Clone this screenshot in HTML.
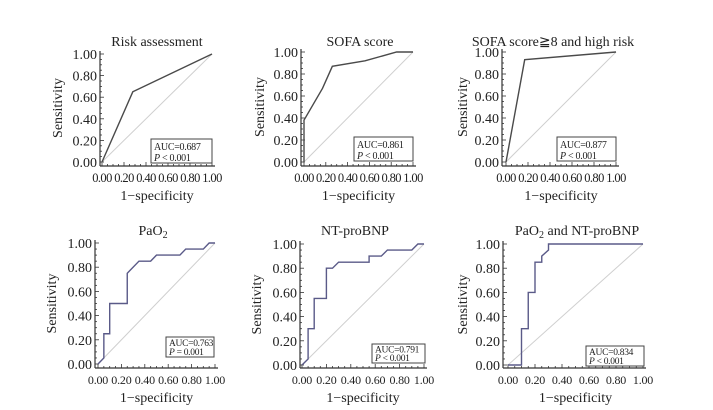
<!DOCTYPE html>
<html><head><meta charset="utf-8"><style>
body{margin:0;background:#fff;}
svg{display:block;font-family:"Liberation Serif",serif;}
</style></head><body>
<svg id="fig" width="713" height="410"></svg>
<script>
const tickLabels=["0.00","0.20","0.40","0.60","0.80","1.00"];
const tickValues=[0,0.2,0.4,0.6,0.8,1];
const riskX=[0,0.28,1];
const riskY=[0,0.65,1];
const sofaX=[0,0,0.17,0.26,0.56,0.85,1];
const sofaY=[0,0.38,0.67,0.87,0.92,1,1];
const comboX=[0,0.17,1];
const comboY=[0,0.93,1];
const paoX=[0,0.05,0.05,0.10,0.10,0.25,0.25,0.35,0.45,0.5,0.7,0.75,0.9,0.95,1];
const paoY=[0,0.05,0.25,0.25,0.5,0.5,0.75,0.85,0.85,0.9,0.9,0.95,0.95,1,1];
const ntX=[0,0.05,0.05,0.1,0.1,0.2,0.2,0.25,0.3,0.55,0.55,0.65,0.7,0.9,0.95,1];
const ntY=[0,0.05,0.3,0.3,0.55,0.55,0.8,0.8,0.85,0.85,0.9,0.9,0.95,0.95,1,1];
const bothX=[0,0.1,0.1,0.15,0.15,0.2,0.2,0.25,0.25,0.3,0.3,1];
const bothY=[0,0,0.3,0.3,0.6,0.6,0.85,0.85,0.9,0.95,1,1];
const aucLabels=["AUC=0.687","AUC=0.861","AUC=0.877","AUC=0.763","AUC=0.791","AUC=0.834"];
const pLabels=["< 0.001","< 0.001","< 0.001","= 0.001","< 0.001","< 0.001"];

const NS="http://www.w3.org/2000/svg";
const svg=document.getElementById('fig');
function mk(tag,attrs,parent){const e=document.createElementNS(NS,tag);for(const k in attrs)e.setAttribute(k,attrs[k]);(parent||svg).appendChild(e);return e;}

const panels=[
 {name:"risk",title:"Risk assessment",xs:riskX,ys:riskY,ax:100,x0:102,x1:212,y0:162,y1:54,xa:166,tx:157,ty:46,sx:58,box:[151,139,61,24],col:"#4a4a4a",lx:200},
 {name:"sofa",title:"SOFA score",xs:sofaX,ys:sofaY,ax:301,x0:304,x1:413,y0:162,y1:52,xa:166,tx:360,ty:46,sx:260,box:[354,137,59,24],col:"#4a4a4a",lx:200},
 {name:"sofa-high-risk",title:"SOFA score\u22678 and high risk",xs:comboX,ys:comboY,ax:502,x0:506,x1:616,y0:162,y1:52,xa:166,tx:553,ty:46,sx:463,box:[557,137,59,24],col:"#4a4a4a",lx:200},
 {name:"pao2",title:"PaO",sub:"2",xs:paoX,ys:paoY,ax:95,x0:98,x1:215,y0:364,y1:243,xa:368,tx:153,ty:235,sx:52,box:[166,337,48,20],col:"#5a5a88",lx:402},
 {name:"nt-probnp",title:"NT-proBNP",xs:ntX,ys:ntY,ax:300,x0:302,x1:424,y0:365,y1:244,xa:368,tx:355,ty:235,sx:257,box:[372,344,53,19],col:"#5a5a88",lx:402},
 {name:"pao2-and-nt-probnp",title:"PaO",sub:"2",tail:" and NT-proBNP",xs:bothX,ys:bothY,ax:503,x0:508,x1:643,y0:365,y1:244,xa:368,tx:577,ty:235,sx:463,box:[586,346,58,20],col:"#5a5a88",lx:402}
];

panels.forEach((p,i)=>{
 const g=mk('g',{});
 
 
 const X=v=>p.x0+v*(p.x1-p.x0), Y=v=>p.y0+v*(p.y1-p.y0);
 const t=mk('text',{x:p.tx,y:p.ty,'text-anchor':'middle','font-size':14,fill:'#222'},g);
 
 
 t.textContent=p.title;
 if(p.sub){const s=mk('tspan',{'font-size':10,dy:3},t);s.textContent=p.sub;if(p.tail){const s2=mk('tspan',{dy:-3},t);s2.textContent=p.tail;}}
 const ya=mk('line',{x1:p.ax,y1:Y(1)-3,x2:p.ax,y2:p.xa,stroke:'#333','stroke-width':1.2},g);
 
 
 const xa=mk('line',{x1:p.ax,y1:p.xa,x2:X(1)+3,y2:p.xa,stroke:'#333','stroke-width':1.2},g);
 
 
 for(let k=0;k<=20;k++){const v=k/20,len=(k%4==0)?4:2;
  mk('line',{x1:p.ax,y1:Y(v),x2:p.ax+len,y2:Y(v),stroke:'#333','stroke-width':0.8},g);
  mk('line',{x1:X(v),y1:p.xa,x2:X(v),y2:p.xa-len,stroke:'#333','stroke-width':0.8},g);}
 tickValues.forEach((v,j)=>{
  const a=mk('text',{x:p.ax-3,y:Y(v)+5,'text-anchor':'end','font-size':14,fill:'#222'},g);
  
  
  a.textContent=tickLabels[j];
  const b=mk('text',{x:X(v),y:p.xa+16,'text-anchor':'middle','font-size':i<3?12.5:12,fill:'#222','letter-spacing':i<3?-0.6:-0.2},g);
  
  
  b.textContent=tickLabels[j];
 });
 const xl=mk('text',{x:(p.x0+p.x1)/2,y:p.lx,'text-anchor':'middle','font-size':14,fill:'#222'},g);
 
 
 xl.textContent='1\u2212specificity';
 const yl=mk('text',{x:0,y:0,'text-anchor':'middle','font-size':14,fill:'#222',transform:`translate(${p.sx+4},${(p.y0+p.y1)/2}) rotate(-90)`},g);
 
 
 yl.textContent='Sensitivity';
 const d=mk('line',{x1:X(0),y1:Y(0),x2:X(1),y2:Y(1),stroke:'#cfcfcf','stroke-width':1},g);
 
 
 const pts=p.xs.map((v,k)=>X(v)+','+Y(p.ys[k])).join(' ');
 const c=mk('polyline',{points:pts,fill:'none',stroke:p.col,'stroke-width':1.4},g);
 
 
 const [bx,by,bw,bh]=p.box;
 const bg=mk('g',{},g);
 
 
 mk('rect',{x:bx,y:by,width:bw,height:bh,fill:'#fff',stroke:'#444','stroke-width':1},bg);
 const fs=i<3?10:9.5;
 const a1=mk('text',{x:bx+3,y:by+bh/2-1,'font-size':fs,fill:'#222','letter-spacing':-0.3},bg);a1.textContent=aucLabels[i];
 const a2=mk('text',{x:bx+3,y:by+bh-2,'font-size':fs,fill:'#222','letter-spacing':-0.3},bg);
 const it=mk('tspan',{'font-style':'italic'},a2);it.textContent='P';
 const rest=mk('tspan',{},a2);rest.textContent=' '+pLabels[i];
});
</script>
</body></html>
